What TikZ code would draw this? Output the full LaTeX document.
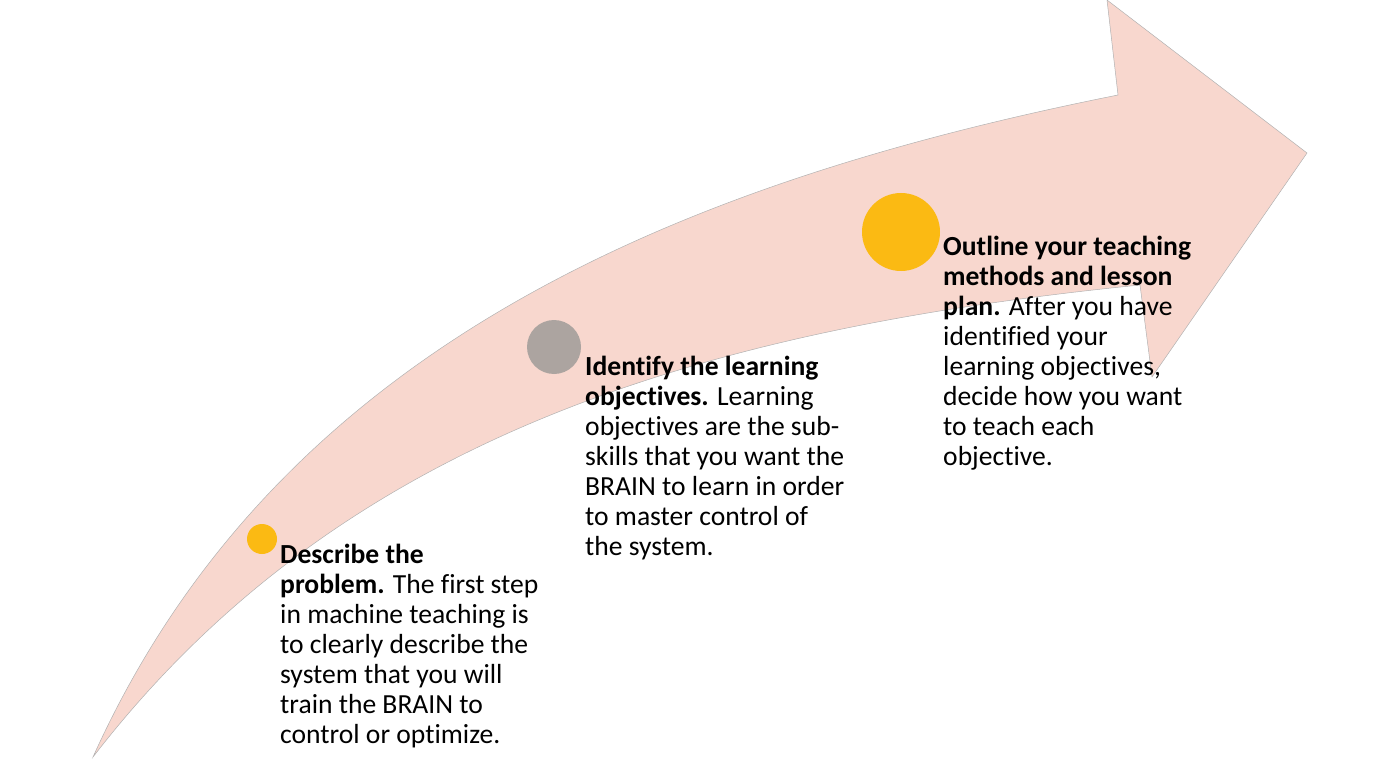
\documentclass[tikz,border=0pt]{standalone}
\usepackage{fontspec}
\setmainfont{Carlito}[Ligatures=NoCommon]
\definecolor{arrowpink}{HTML}{F8D7CE}
\definecolor{dotyellow}{HTML}{FBBA13}
\definecolor{dotgray}{HTML}{ACA4A0}
\tikzset{
  steptext/.style={anchor=base west, inner sep=0pt, align=left,
    font=\fontsize{27.6}{30}\selectfont, text=black},
  dot/.style={circle, inner sep=0pt, fill=#1}
}
\begin{document}
\begin{tikzpicture}[x=1pt,y=-1pt]
\useasboundingbox (0,0) rectangle (1400,770);
% curved arrow
\fill[arrowpink, draw=gray!60, line width=0.5pt]
  (93,757) .. controls (277.5,347.5) and (677,183) .. (1118,95)
  -- (1107,0) -- (1307,153) -- (1152,377) -- (1140,285)
  .. controls (692,330) and (337,441) .. (93,757) -- cycle;
% dots
\node[dot=dotyellow, minimum size=30pt] (d1) at (262,539) {};
\node[dot=dotgray, minimum size=54pt] (d2) at (554,347) {};
\node[dot=dotyellow, minimum size=78pt] (d3) at (901,232) {};
% texts (anchored at the baseline of the last line)
\node[steptext] (t1) at (280,743) {\textbf{Describe the}\\\textbf{problem.} The first step\\in machine teaching is\\to clearly describe the\\system that you will\\train the BRAIN to\\control or optimize.};
\node[steptext] (t2) at (585,555) {\textbf{Identify the learning}\\\textbf{objectives.} Learning\\objectives are the sub-\\skills that you want the\\BRAIN to learn in order\\to master control of\\the system.};
\node[steptext] (t3) at (943,465) {\textbf{Outline your teaching}\\\textbf{methods and lesson}\\\textbf{plan.} After you have\\identified your\\learning objectives,\\decide how you want\\to teach each\\objective.};
\end{tikzpicture}
\end{document}
